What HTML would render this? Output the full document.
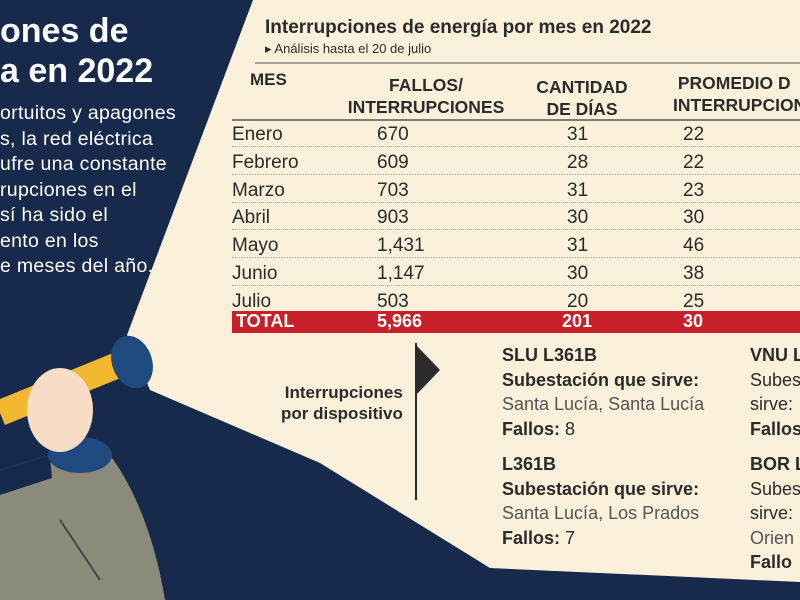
<!DOCTYPE html>
<html><head><meta charset="utf-8"><style>
body{margin:0;width:800px;height:600px;overflow:hidden;background:#182a4c;font-family:"Liberation Sans",sans-serif;position:relative}
.t{position:absolute;white-space:nowrap}
.w{color:#fff}
.d{color:#2b2b2b}
.b{font-weight:bold}
.c{transform:translateX(-50%)}
.dot{position:absolute;left:232px;width:568px;border-top:1px dotted #aaa}
</style></head><body>
<svg width="800" height="600" style="position:absolute;left:0;top:0">
<polygon points="253,0 800,0 800,582 490,568 320,463 150,390 127,335" fill="#fbf0da"/>
<path d="M0,470 L50,455 L110,455 Q150,510 165,600 L0,600Z" fill="#8c8a7a"/>
<path d="M0,470 L50,455 L52,478 L0,495Z" fill="#182a4c"/>
<ellipse cx="80" cy="455" rx="32" ry="18" fill="#1f4a7e"/>
<line x1="0" y1="413" x2="118" y2="365" stroke="#f4b732" stroke-width="26"/>
<ellipse cx="132" cy="362" rx="20" ry="27" transform="rotate(-20 132 362)" fill="#1f4a7e"/>
<ellipse cx="60" cy="410" rx="33" ry="42" fill="#f7dcc6"/>
<line x1="60" y1="520" x2="100" y2="580" stroke="#444" stroke-width="2"/>
<line x1="255" y1="63" x2="800" y2="63" stroke="#555" stroke-width="1"/>
<line x1="232" y1="120" x2="800" y2="120" stroke="#555" stroke-width="1.5"/>
<rect x="232" y="311" width="568" height="22" fill="#c8202a"/>
<line x1="416" y1="343" x2="416" y2="500" stroke="#2b2b2b" stroke-width="2"/>
<polygon points="416,345 440,370 416,395" fill="#2b2b2b"/>
</svg>
<div class="t w b" style="left:0;top:12px;font-size:34px">ones de</div>
<div class="t w b" style="left:0;top:52px;font-size:34px">a en 2022</div>
<div class="t w" style="left:0;top:101px;font-size:19.5px;line-height:25.5px;letter-spacing:0.3px">ortuitos y apagones<br>s, la red eléctrica<br>ufre una constante<br>rupciones en el<br>sí ha sido el<br>ento en los<br>e meses del año.</div>

<div class="t d b" style="left:265px;top:17px;font-size:19px">Interrupciones de energía por mes en 2022</div>
<div class="t d" style="left:265px;top:41px;font-size:13px">▸ Análisis hasta el 20 de julio</div>
<div class="t d b" style="left:250px;top:70px;font-size:17px">MES</div>
<div class="t d b c" style="left:426px;top:74px;font-size:17.5px;text-align:center;line-height:22px">FALLOS/<br>INTERRUPCIONES</div>
<div class="t d b c" style="left:582px;top:76px;font-size:17.5px;text-align:center;line-height:22px">CANTIDAD<br>DE DÍAS</div>
<div class="t d b" style="left:673px;top:72px;font-size:17.5px;line-height:22px">&nbsp;PROMEDIO D<br>INTERRUPCION</div>

<div class="dot" style="top:146px"></div><div class="dot" style="top:174px"></div><div class="dot" style="top:202px"></div><div class="dot" style="top:229px"></div><div class="dot" style="top:257px"></div><div class="dot" style="top:285px"></div>
<div class="t d" style="left:232px;top:121px;font-size:19px;line-height:27.8px">Enero<br>Febrero<br>Marzo<br>Abril<br>Mayo<br>Junio<br>Julio</div>
<div class="t d" style="left:377px;top:121px;font-size:19px;line-height:27.8px">670<br>609<br>703<br>903<br>1,431<br>1,147<br>503</div>
<div class="t d" style="left:567px;top:121px;font-size:19px;line-height:27.8px">31<br>28<br>31<br>30<br>31<br>30<br>20</div>
<div class="t d" style="left:683px;top:121px;font-size:19px;line-height:27.8px">22<br>22<br>23<br>30<br>46<br>38<br>25</div>
<div class="t w b" style="left:236px;top:311px;font-size:18px">TOTAL</div>
<div class="t w b" style="left:377px;top:311px;font-size:18px">5,966</div>
<div class="t w b" style="left:562px;top:311px;font-size:18px">201</div>
<div class="t w b" style="left:683px;top:311px;font-size:18px">30</div>

<div class="t d b" style="left:281px;top:382px;font-size:17px;text-align:right;line-height:21px">Interrupciones<br>por dispositivo</div>
<div class="t d" style="left:502px;top:343px;font-size:18px;line-height:24.5px"><b>SLU L361B</b><br><span style="font-weight:600">Subestación que sirve:</span><br><span style="color:#555">Santa Lucía, Santa Lucía</span><br><b>Fallos:</b> 8</div>
<div class="t d" style="left:502px;top:452px;font-size:18px;line-height:24.5px"><b>L361B</b><br><span style="font-weight:600">Subestación que sirve:</span><br><span style="color:#555">Santa Lucía, Los Prados</span><br><b>Fallos:</b> 7</div>
<div class="t d" style="left:750px;top:343px;font-size:18px;line-height:24.5px"><b>VNU L</b><br>Subes<br>sirve:<br><b>Fallos</b></div>
<div class="t d" style="left:750px;top:452px;font-size:18px;line-height:24.5px"><b>BOR L</b><br>Subes<br>sirve:<br><span style="color:#555">Orien</span><br><b>Fallo</b></div>
</body></html>
